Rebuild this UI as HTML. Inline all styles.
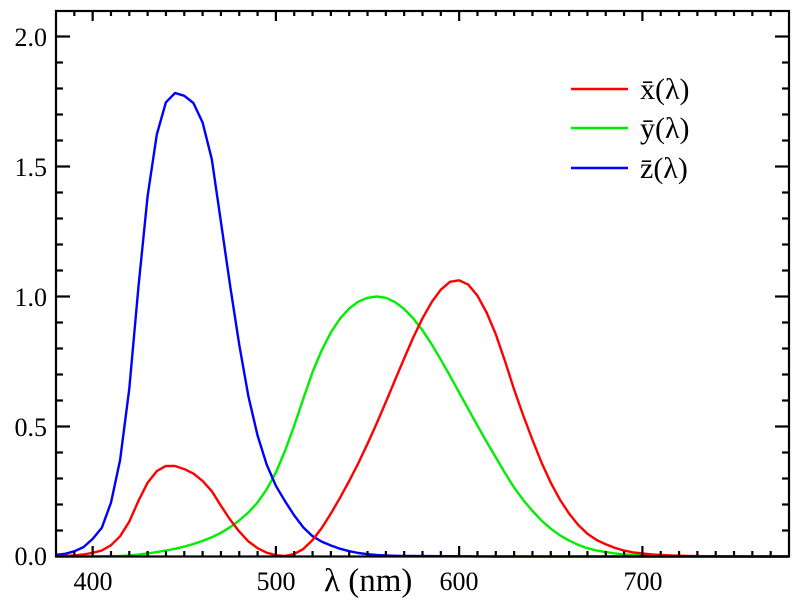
<!DOCTYPE html>
<html><head><meta charset="utf-8"><style>body{margin:0;background:#fff}svg{display:block}text{font-family:"Liberation Serif",serif;fill:#000}</style></head>
<body>
<svg id="s" width="800" height="600" viewBox="0 0 800 600" xmlns="http://www.w3.org/2000/svg">
<rect x="0" y="0" width="800" height="600" fill="#fff"/>
<g id="curves" fill="none" stroke-width="2.4" stroke-linejoin="round"></g>
<rect x="56" y="11" width="733" height="545.5" fill="none" stroke="#000" stroke-width="2.2"/>
<g id="ticks" stroke="#000" stroke-width="2.2"></g>
<g font-size="26" text-anchor="end">
<text x="47" y="565">0.0</text><text x="47" y="436">0.5</text><text x="47" y="306">1.0</text><text x="47" y="176">1.5</text><text x="47" y="46">2.0</text>
</g>
<g font-size="26" text-anchor="middle">
<text x="93" y="590">400</text><text x="276" y="590">500</text><text x="459" y="590">600</text><text x="643" y="590">700</text>
</g>
<text x="324" y="591" font-size="33">λ (nm)</text>
<line x1="571" y1="89" x2="628" y2="89" stroke="#f00" stroke-width="2.4"/>
<line x1="571" y1="128" x2="628" y2="128" stroke="#0e0" stroke-width="2.4"/>
<line x1="571" y1="168" x2="628" y2="168" stroke="#00f" stroke-width="2.4"/>
<g font-size="30"><text x="640" y="99">x̄(λ)</text><text x="640" y="138">ȳ(λ)</text><text x="640" y="178">z̄(λ)</text></g>
</svg>
<script>
var X=[.001368,.002236,.004243,.00765,.01431,.02319,.04351,.07763,.13438,.21477,.2839,.3285,.34828,.34806,.3362,.3187,.2908,.2511,.19536,.1421,.09564,.05795,.03201,.0147,.0049,.0024,.0093,.0291,.06327,.1096,.1655,.22575,.2904,.3597,.43345,.51205,.5945,.6784,.7621,.8425,.9163,.9786,1.0263,1.0567,1.0622,1.0456,1.0026,.9384,.85445,.7514,.6424,.5419,.4479,.3608,.2835,.2187,.1649,.1212,.0874,.0636,.04677,.0329,.0227,.01584,.011359,.008111,.00579,.004109,.002899,.002049,.00144,.001,.00069,.000476,.000332,.000235,.000166,.000117,.000083,.000059,.000042];
var Y=[.000039,.000064,.00012,.000217,.000396,.00064,.00121,.00218,.004,.0073,.0116,.01684,.023,.0298,.038,.048,.06,.0739,.09098,.1126,.13902,.1693,.20802,.2586,.323,.4073,.503,.6082,.71,.7932,.862,.91485,.954,.9803,.99495,1.0,.995,.9786,.952,.9154,.87,.8163,.757,.6949,.631,.5668,.503,.4412,.381,.321,.265,.217,.175,.1382,.107,.0816,.061,.04458,.032,.0232,.017,.01192,.00821,.005723,.004102,.002929,.002091,.001484,.001047,.00074,.00052,.000361,.000249,.000172,.00012,.000085,.00006,.000042,.00003,.000021,.000015];
var Z=[.00645,.01055,.02005,.03621,.06785,.1102,.2074,.3713,.6456,1.03905,1.3856,1.62296,1.74706,1.7826,1.77211,1.7441,1.6692,1.5281,1.28764,1.0419,.81295,.6162,.46518,.3533,.272,.2123,.1582,.1117,.07825,.05725,.04216,.02984,.0203,.0134,.00875,.00575,.0039,.00275,.0021,.0018,.00165,.0014,.0011,.001,.0008,.0006,.00034,.00024,.00019,.0001,.00005,.00003,.00002,.00001];
while(Z.length<81)Z.push(0);
function px(l){return 56+(l-380)*1.8325}function py(v){return 556.5-v*260}
var ns="http://www.w3.org/2000/svg",g=document.getElementById('curves');
[[Y,'#0e0'],[Z,'#00f'],[X,'#f00']].forEach(function(a){var d='';a[0].forEach(function(v,i){d+=(i?'L':'M')+px(380+5*i).toFixed(1)+','+py(v).toFixed(1)});var p=document.createElementNS(ns,'path');p.setAttribute('d',d);p.setAttribute('stroke',a[1]);g.appendChild(p)});
var t=document.getElementById('ticks');function ln(a,b,c,d){var l=document.createElementNS(ns,'line');l.setAttribute('x1',a);l.setAttribute('y1',b);l.setAttribute('x2',c);l.setAttribute('y2',d);t.appendChild(l)}
for(var l=390;l<780;l+=10){var x=px(l),L=(l%100==0)?10:5;ln(x,556,x,556-L);ln(x,11,x,11+L)}
for(var k=1;k<21;k++){var y=py(k/10),L=(k%5==0)?14:7;ln(56,y,56+L,y);ln(789,y,789-L,y)}
</script>
</body></html>
